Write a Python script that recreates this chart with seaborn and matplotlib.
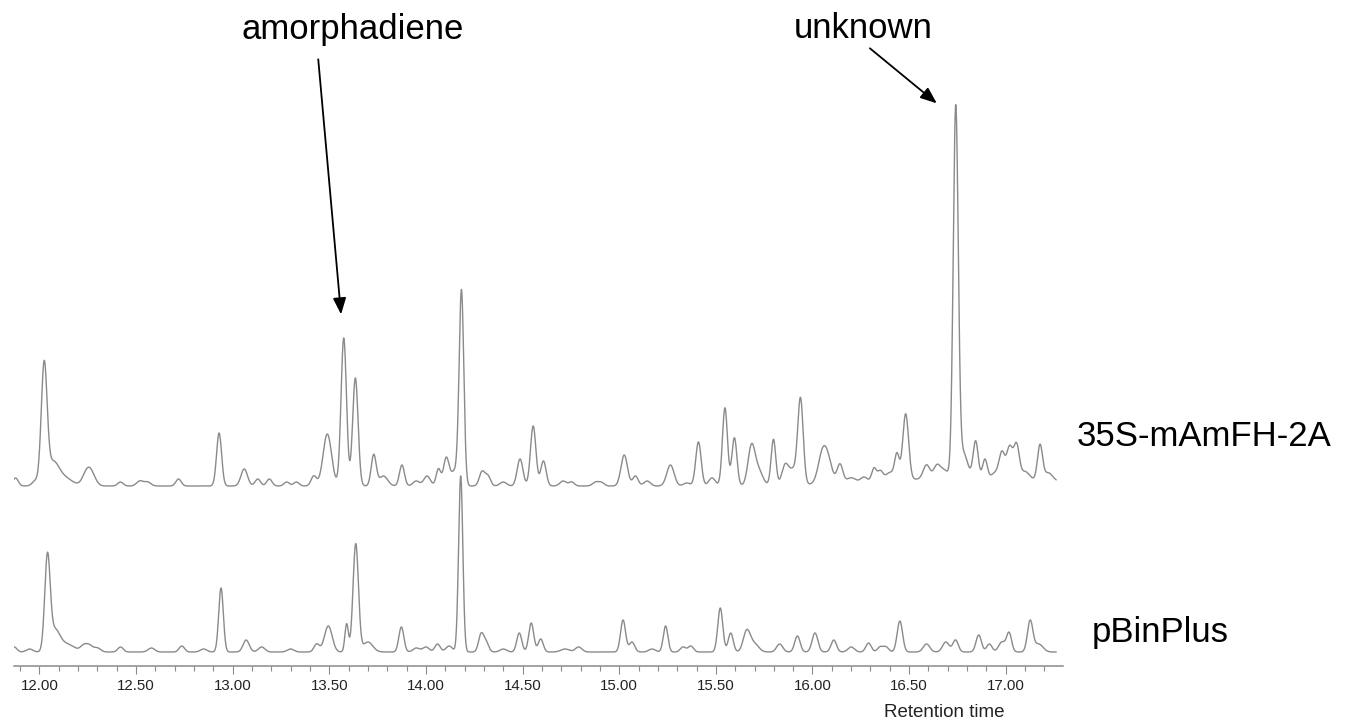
import numpy as np
import pandas as pd
import matplotlib
matplotlib.use("Agg")
import matplotlib.pyplot as plt
from matplotlib.ticker import MultipleLocator, FormatStrFormatter
import seaborn as sns

# ---------------- data ----------------
# peak retention times (min), heights (arbitrary units) and widths (sigma, min)
top_label = "35S-mAmFH-2A"
top_rt = [11.877, 11.98, 12.025, 12.07, 12.13, 12.245, 12.27, 12.42, 12.52, 12.56,
          12.72, 12.93, 13.06, 13.13, 13.19, 13.28, 13.33, 13.42, 13.49, 13.575,
          13.635, 13.73, 13.78, 13.876, 13.95, 14.006, 14.065, 14.105, 14.15, 14.184,
          14.29, 14.32, 14.40, 14.487, 14.555, 14.608, 14.71, 14.754, 14.88, 14.91,
          15.026, 15.084, 15.144, 15.265, 15.35, 15.41, 15.48, 15.547, 15.596, 15.684,
          15.72, 15.798, 15.858, 15.90, 15.938, 16.05, 16.08, 16.142, 16.20, 16.266,
          16.318, 16.35, 16.40, 16.437, 16.482, 16.59, 16.643, 16.68, 16.741, 16.78,
          16.844, 16.892, 16.95, 16.98, 17.02, 17.056, 17.10, 17.177, 17.22, 16.80]
top_h = [8, 5, 118, 22, 8, 12, 10, 4, 5, 4,
         7, 53, 17, 7, 7, 4, 4, 10, 52, 148,
         108, 31, 10, 21, 5, 10, 17, 27, 15, 192,
         14, 10, 4, 27, 60, 25, 5, 4, 4, 3,
         31, 10, 5, 21, 3, 44, 8, 78, 48, 38,
         15, 46, 19, 15, 84, 27, 21, 19, 5, 5,
         13, 10, 8, 25, 66, 14, 12, 8, 368, 25,
         37, 19, 6, 24, 32, 33, 8, 35, 8, 8]
top_w = [0.014, 0.017, 0.015, 0.03, 0.04, 0.022, 0.022, 0.014, 0.017, 0.017,
         0.014, 0.013, 0.017, 0.014, 0.014, 0.014, 0.014, 0.014, 0.022, 0.014,
         0.014, 0.013, 0.022, 0.013, 0.017, 0.017, 0.012, 0.014, 0.022, 0.012,
         0.014, 0.014, 0.017, 0.015, 0.014, 0.014, 0.017, 0.014, 0.017, 0.014,
         0.017, 0.014, 0.017, 0.019, 0.017, 0.014, 0.017, 0.013, 0.013, 0.018,
         0.022, 0.012, 0.017, 0.022, 0.014, 0.022, 0.022, 0.015, 0.022, 0.017,
         0.012, 0.014, 0.022, 0.012, 0.015, 0.017, 0.017, 0.022, 0.013, 0.022,
         0.013, 0.012, 0.022, 0.014, 0.016, 0.014, 0.022, 0.013, 0.022, 0.45]
top_base = 180

bottom_label = "pBinPlus"
bot_rt = [11.87, 11.95, 12.042, 12.08, 12.14, 12.23, 12.26, 12.30, 12.42, 12.58,
          12.737, 12.85, 12.94, 13.07, 13.15, 13.30, 13.435, 13.495, 13.59, 13.637,
          13.70, 13.873, 13.95, 14.00, 14.06, 14.12, 14.18, 14.285, 14.31, 14.40,
          14.483, 14.545, 14.594, 14.72, 14.79, 15.02, 15.066, 15.17, 15.24, 15.33,
          15.37, 15.523, 15.577, 15.66, 15.70, 15.83, 15.922, 16.013, 16.11, 16.20,
          16.29, 16.35, 16.38, 16.452, 16.59, 16.69, 16.74, 16.86, 16.915, 16.98,
          17.017, 17.126, 17.17]
bot_h = [5, 3, 93, 20, 8, 6, 6, 4, 5, 4,
         6, 3, 64, 12, 5, 3, 8, 26, 28, 108,
         10, 25, 4, 5, 8, 6, 176, 17, 10, 3,
         19, 29, 13, 3, 5, 32, 10, 3, 26, 5,
         6, 44, 19, 21, 8, 8, 16, 19, 12, 5,
         9, 5, 5, 31, 8, 10, 12, 17, 8, 10,
         19, 31, 8]
bot_w = [0.014, 0.017, 0.014, 0.025, 0.04, 0.017, 0.017, 0.017, 0.014, 0.017,
         0.014, 0.017, 0.012, 0.016, 0.017, 0.017, 0.014, 0.02, 0.009, 0.014,
         0.025, 0.013, 0.017, 0.017, 0.014, 0.017, 0.011, 0.013, 0.014, 0.017,
         0.013, 0.013, 0.013, 0.022, 0.017, 0.013, 0.014, 0.017, 0.012, 0.014,
         0.014, 0.013, 0.013, 0.018, 0.022, 0.016, 0.014, 0.015, 0.014, 0.017,
         0.014, 0.014, 0.014, 0.014, 0.017, 0.017, 0.014, 0.014, 0.014, 0.017,
         0.013, 0.014, 0.022]
bot_base = 14

rt_start, rt_end = 11.868, 17.262
major_ticks = [12.0, 12.5, 13.0, 13.5, 14.0, 14.5, 15.0, 15.5, 16.0, 16.5, 17.0]
x_label = "Retention time"
annotations = [("amorphadiene", 13.561), ("unknown", 16.741)]

# ---------------- build traces ----------------
rt = np.arange(rt_start, rt_end, 0.001)


def trace(rts, hs, ws, base):
    y = np.full_like(rt, float(base))
    for c, h, w in zip(rts, hs, ws):
        y += h * np.exp(-0.5 * ((rt - c) / w) ** 2)
    return y


df = pd.concat([
    pd.DataFrame({"rt": rt, "intensity": trace(top_rt, top_h, top_w, top_base), "sample": top_label}),
    pd.DataFrame({"rt": rt, "intensity": trace(bot_rt, bot_h, bot_w, bot_base), "sample": bottom_label}),
])

# ---------------- plot ----------------
sns.set_theme(style="white")
plt.rcParams["font.family"] = ["Liberation Sans", "DejaVu Sans"]

W, H = 1345, 722
fig = plt.figure(figsize=(W / 100, H / 100), dpi=100)
ax = fig.add_axes([14 / W, 56 / H, 1049 / W, 666 / H])

sns.lineplot(data=df, x="rt", y="intensity", hue="sample", units="sample",
             estimator=None, palette={top_label: "#8a8a8a", bottom_label: "#8a8a8a"},
             linewidth=1.0, legend=False, ax=ax, sort=True)

ax.set_xlim(11.869, 17.296)
ax.set_ylim(0, 666)
ax.set_xlabel("")
ax.set_ylabel("")
ax.set_yticks([])
for s in ["top", "left", "right"]:
    ax.spines[s].set_visible(False)
ax.spines["bottom"].set_color("#8a8a8a")
ax.spines["bottom"].set_linewidth(1.1)
ax.set_xticks(major_ticks)
ax.xaxis.set_major_formatter(FormatStrFormatter("%.2f"))
ax.xaxis.set_minor_locator(MultipleLocator(0.1))
ax.tick_params(axis="x", which="major", direction="out", length=5.8, width=0.8,
               color="#8a8a8a", labelsize=10.8, labelcolor="#222222", pad=3.8, bottom=True)
ax.tick_params(axis="x", which="minor", direction="out", length=3.4, width=0.8,
               color="#8a8a8a", bottom=True)

# sample labels
fig.text(1077 / W, 1 - 446 / H, top_label, fontsize=25, color="black", ha="left", va="baseline")
fig.text(1092 / W, 1 - 642 / H, bottom_label, fontsize=25, color="black", ha="left", va="baseline")

# axis title
fig.text(944 / W, 1 - 717 / H, x_label, fontsize=13.5, color="#222222", ha="center", va="baseline")

# annotations (text + arrow)
arrow_kw = dict(arrowstyle="-|>,head_length=0.55,head_width=0.22", color="black",
                lw=1.3, shrinkA=0, shrinkB=0, mutation_scale=18)
# amorphadiene
ax.text(13.62, 626.7, annotations[0][0], fontsize=25, ha="center", va="baseline", color="black")
ax.annotate("", xy=(annotations[0][1], 351.6), xytext=(13.443, 606.7), arrowprops=arrow_kw)
# unknown
ax.text(16.26, 628, annotations[1][0], fontsize=25, ha="center", va="baseline", color="black")
ax.annotate("", xy=(16.643, 562.7), xytext=(16.297, 617.7), arrowprops=arrow_kw)

fig.savefig("out.png", dpi=100, facecolor="white")
